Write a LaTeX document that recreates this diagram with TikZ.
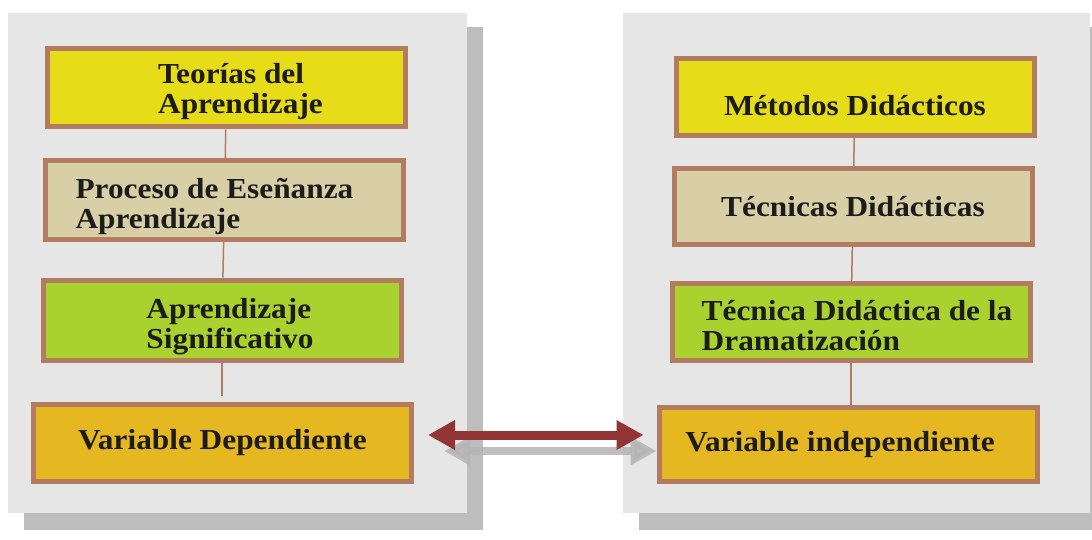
\documentclass[tikz,border=0pt]{standalone}
\usepackage{fontspec}
\newfontfamily\boxfont{Liberation Serif}[FakeStretch=1.08]
\usetikzlibrary{positioning,arrows.meta}

\definecolor{panelgray}{HTML}{E6E6E6}
\definecolor{shadowgray}{HTML}{BDBDBD}
\definecolor{boxborder}{HTML}{B17C5F}
\definecolor{boxyellow}{HTML}{E6DC17}
\definecolor{boxbeige}{HTML}{D9CFA6}
\definecolor{boxgreen}{HTML}{A9D22E}
\definecolor{boxorange}{HTML}{E5B822}
\definecolor{linkred}{HTML}{943535}
\definecolor{linkgray}{HTML}{B4B4B4}
\definecolor{textdark}{HTML}{1C1C1C}

\tikzset{
  box/.style={draw=boxborder, line width=5pt, minimum width=358pt,
    minimum height=78pt, inner sep=0pt, align=left, text=textdark,
    font=\boxfont\bfseries\fontsize{29}{30}\selectfont},
  lowtext/.style={text height=64pt, text depth=7pt},
  varbox/.style={box, fill=boxorange, minimum width=378pt},
  tie/.style={draw=boxborder, line width=1.5pt},
  redlink/.style={draw=linkred, line width=9pt,
    {Triangle[length=27pt,width=28pt]}-{Triangle[length=27pt,width=28pt]}},
  graylink/.style={draw=linkgray, line width=8.5pt, opacity=.85,
    {Triangle[length=26pt,width=27pt]}-{Triangle[length=26pt,width=27pt]}}
}

\begin{document}
\begin{tikzpicture}[x=1pt, y=-1pt]

  \fill[white] (0,0) rectangle (1092,540);
  \useasboundingbox (0,0) rectangle (1092,540);

  % Panels with shadow
  \fill[shadowgray] (24,27) rectangle (483,530);
  \fill[panelgray] (8,13) rectangle (467,513);
  \fill[shadowgray] (639,27) rectangle (1092,530);
  \fill[panelgray] (623,13) rectangle (1090,513);

  % Left column (dependiente)
  \node[box, fill=boxyellow, text height=58pt, text depth=7pt] (L1) at (226.5,88) {\hspace*{28pt}Teorías del\\\hspace*{28pt}Aprendizaje};
  \node[box, fill=boxbeige, lowtext, below=29pt of L1, xshift=-2pt] (L2) {\hspace*{-20pt}Proceso de Eseñanza\\\hspace*{-20pt}Aprendizaje};
  \node[box, fill=boxgreen, lowtext, below=36pt of L2, xshift=-2.5pt, minimum height=80pt] (L3) {\hspace*{16pt}Aprendizaje\\\hspace*{16pt}Significativo};
  \node[varbox, below=39pt of L3, xshift=0.5pt, minimum height=77pt] (L4) {Variable Dependiente};

  % Right column (independiente)
  \node[box, fill=boxyellow, minimum height=77pt, text height=44pt, text depth=6pt] (R1) at (855,97) {Métodos Didácticos};
  \node[box, fill=boxbeige, below=28pt of R1, xshift=-2pt, minimum height=76pt] (R2) {Técnicas Didácticas};
  \node[box, fill=boxgreen, lowtext, below=34pt of R2, xshift=-2pt, minimum height=77pt] (R3) {\hspace*{12pt}Técnica Didáctica de la\\\hspace*{12pt}Dramatización};
  \node[varbox, below=42pt of R3, xshift=-3pt, minimum height=74pt] (R4) {\hspace*{-16pt}Variable independiente};

  % Vertical ties
  \draw[tie] (L1) -- (L2);
  \draw[tie] (L2) -- (L3);
  \draw[tie, shorten >=6pt] (L3) -- (L3 |- L4.north);
  \draw[tie] (R1) -- (R2);
  \draw[tie] (R2) -- (R3);
  \draw[tie] (R3) -- (R3 |- R4.north);

  % Double arrows between the variables
  \draw[graylink, shorten <=30pt] ([yshift=-8.5pt]L4.east) -- ([yshift=-8.5pt]L4.east -| R4.west);
  \draw[redlink, shorten <=14pt, shorten >=13pt] ([yshift=7.5pt]L4.east) -- ([yshift=7.5pt]L4.east -| R4.west);

\end{tikzpicture}
\end{document}
